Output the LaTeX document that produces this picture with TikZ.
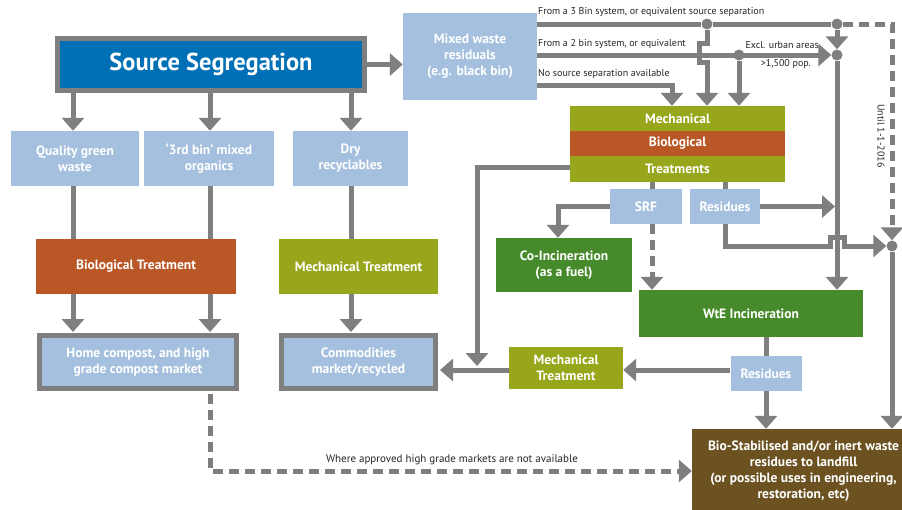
\documentclass[tikz,border=0pt]{standalone}
\usepackage{fontspec}
\setmainfont{PT Sans}
\usetikzlibrary{arrows.meta}
\definecolor{gr}{HTML}{7F7F7F}
\definecolor{lb}{HTML}{A5C0DE}
\definecolor{db}{HTML}{0070B6}
\definecolor{ol}{HTML}{98A61B}
\definecolor{orb}{HTML}{B95726}
\definecolor{dg}{HTML}{468A2B}
\definecolor{brn}{HTML}{6B5220}
\begin{document}
\begin{tikzpicture}[x=1pt,y=-1pt,
  box/.style={inner sep=0pt, align=center, text=white, font=\bfseries\fontsize{13.5}{16}\selectfont},
  bl/.style={box, fill=lb},
  ln/.style={draw=gr, line width=5pt},
  arr/.style={ln, -{Triangle[width=22pt,length=13pt]}},
  dsh/.style={ln, dash pattern=on 10pt off 6pt},
  dot/.style={circle, fill=gr, minimum size=11pt, inner sep=0pt},
  lbl/.style={inner sep=1pt, font=\fontsize{10}{12}\selectfont, text=black!85}]
\useasboundingbox (0,0) rectangle (902,509);
\clip (0,0) rectangle (902,509);
\fill[white] (0,0) rectangle (902,509);

% left column
\node[box, fill=db, draw=gr, line width=5pt, minimum width=307pt, minimum height=52pt,
      font=\bfseries\fontsize{24.5}{28}\selectfont] (src) at (211,64.5) {Source Segregation};
\node[bl, minimum width=134pt, minimum height=87pt] (mixed) at (470,56.5) {Mixed waste\\residuals\\(e.g. black bin)};
\node[bl, minimum width=128pt, minimum height=55pt] (green) at (75,158.5) {Quality green\\waste};
\node[bl, minimum width=130pt, minimum height=55pt] (third) at (209,158.5) {‘3rd bin’ mixed\\organics};
\node[bl, minimum width=115pt, minimum height=55pt] (dry) at (350.5,158.5) {Dry\\recyclables};
\node[box, fill=orb, minimum width=200pt, minimum height=55pt] (bio) at (136,266.5) {Biological Treatment};
\node[box, fill=ol, minimum width=159pt, minimum height=55pt] (mech) at (358.5,266.5) {Mechanical Treatment};
\node[bl, draw=gr, line width=5pt, minimum width=197pt, minimum height=53pt] (home) at (138,362) {Home compost, and high\\grade compost market};
\node[bl, draw=gr, line width=5pt, minimum width=154pt, minimum height=53pt] (comm) at (358.5,362) {Commodities\\market/recycled};

% right part
\node[box, fill=ol, minimum width=215pt, minimum height=25pt] (mbta) at (677.5,118.5) {Mechanical};
\node[box, fill=orb, minimum width=215pt, minimum height=25pt] (mbtb) at (677.5,143.5) {Biological};
\node[box, fill=ol, minimum width=215pt, minimum height=26pt] (mbtc) at (677.5,169) {Treatments};
\node[bl, minimum width=72pt, minimum height=35pt] (srf) at (646,206.5) {SRF};
\node[bl, minimum width=70pt, minimum height=35pt] (res1) at (725,206.5) {Residues};
\node[box, fill=dg, minimum width=136pt, minimum height=54pt] (coinc) at (564,265) {Co-Incineration\\(as a fuel)};
\node[box, fill=dg, minimum width=224pt, minimum height=47pt] (wte) at (751,313.5) {WtE Incineration};
\node[box, fill=ol, minimum width=114pt, minimum height=42pt] (mech2) at (566,368) {Mechanical\\Treatment};
\node[bl, minimum width=71pt, minimum height=35pt] (res2) at (766,373.5) {Residues};
\node[box, fill=brn, minimum width=223pt, minimum height=84pt] (land) at (803.5,471) {Bio-Stabilised and/or inert waste\\residues to landfill\\(or possible uses in engineering,\\restoration, etc)};

% dots
\node[dot] (da) at (707,24) {};
\node[dot] (db) at (837,24) {};
\node[dot] (dc) at (739,55) {};
\node[dot] (dd) at (837,55) {};
\node[dot] (de) at (892,246) {};

\coordinate (c3) at (892,24);
\coordinate (cmb) at (477,167);
\coordinate (cdash) at (210,471);

% source segregation arrows
\draw[arr] (src.east) -- (mixed.west |- src.east);
\draw[arr] (src.south -| 73,0) -- (green.north -| 73,0);
\draw[arr] (src.south -| 210,0) -- (third.north -| 210,0);
\draw[arr] (src.south -| 351,0) -- (dry.north -| 351,0);
\draw[ln] (green.south -| 73,0) -- (bio.north -| 73,0);
\draw[ln] (third.south -| 210,0) -- (bio.north -| 210,0);
\draw[ln] (dry.south -| 351,0) -- (mech.north -| 351,0);
\draw[arr] (bio.south -| 73,0) -- ([yshift=1pt]home.north -| 73,0);
\draw[arr] (bio.south -| 210,0) -- ([yshift=1pt]home.north -| 210,0);
\draw[arr] (mech.south -| 351,0) -- ([yshift=1pt]comm.north -| 351,0);
\draw[dsh, -{Triangle[width=22pt,length=13pt]}] ([yshift=-2.5pt]home.south -| cdash) -- (cdash) -- (land.west |- cdash);
\node[lbl, anchor=south, font=\fontsize{11}{13}\selectfont] at (452,466) {Where approved high grade markets are not available};

% mixed waste lines
\draw[ln] (mixed.east |- da) -- (da) -- (db);
\draw[dsh, -{Triangle[width=22pt,length=13pt]}] (db) -- (c3) -- (de.north);
\draw[arr] (mixed.east |- dd) -- (dd.west);
\draw[arr] (mixed.east |- 0,85) -- (672,85) -- (mbta.north -| 672,0);
\draw[arr] (da) -- (707,43) -- (699,43) -- (699,62) -- (707,62) -- (mbta.north -| 707,0);
\draw[arr] (dc) -- (mbta.north -| dc);
\draw[arr] (db) -- (dd.north);
\draw[arr] (dd) -- (wte.north -| dd);
\node[lbl, anchor=south west] at (537,18) {From a 3 Bin system, or equivalent source separation};
\node[lbl, anchor=south west] at (537,50) {From a 2 bin system, or equivalent};
\node[lbl, anchor=south east] at (820,50) {Excl. urban areas};
\node[lbl, anchor=north east] at (812,58) {>1,500 pop.};
\node[lbl, rotate=-90] at (881,136) {Until 1-1-2016};
\node[lbl, anchor=south west] at (537,80) {No source separation available};

% MBT outputs
\draw[ln] (mbtc.south -| 652,0) -- (srf.north -| 652,0);
\draw[ln] (mbtc.south -| res1) -- (res1.north);
\draw[arr] (srf.west) -- (srf.west -| 558,0) -- (coinc.north -| 558,0);
\draw[dsh, -{Triangle[width=22pt,length=13pt]}] (srf.south -| 652,0) -- (wte.north -| 652,0);
\draw[arr] (res1.east) -- (835,206.5);
\draw[arr] (res1.south) -- (725,246) -- (830,246) -- (830,237) -- (844,237) -- (844,246) -- (de.west);
\draw[arr] (mbtc.west |- cmb) -- (cmb) -- (477,366);
\draw[arr] (mech2.west |- 0,370) -- ([xshift=2pt]comm.east |- 0,370);
\draw[arr] (res2.west |- 0,370) -- (mech2.east |- 0,370);
\draw[ln] (wte.south -| res2) -- (res2.north);
\draw[arr] (res2.south) -- (land.north -| res2);
\draw[arr] (de) -- (land.north -| de);
\end{tikzpicture}
\end{document}
